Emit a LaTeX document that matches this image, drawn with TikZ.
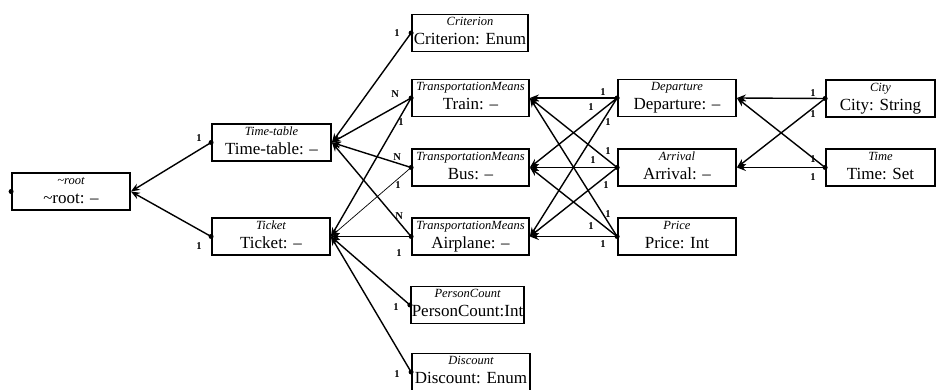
\documentclass[tikz,border=0pt]{standalone}
\usepackage{fontspec}
\setmainfont{Liberation Serif}
\usetikzlibrary{arrows.meta,calc}
\tikzset{
  ent/.style={draw, line width=1.8pt, rectangle, inner xsep=1pt, inner ysep=1.5pt,
    minimum height=37pt, align=center, font=\fontsize{17}{19}\selectfont},
  conn/.style={line width=1.4pt, -{Stealth[length=9pt,width=7pt]}},
  thinconn/.style={line width=0.7pt},
  card/.style={font=\fontsize{10.5}{11}\selectfont\bfseries, inner sep=0pt},
}
\newcommand\bx[2]{{\fontsize{12.5}{13}\selectfont\itshape\rule{0pt}{10pt}#1}\\{\rule[-5pt]{0pt}{5pt}#2}}
\newcommand\edge[5][]{\draw[conn,#1] (#2.west) -- (#3.east) node[card,at start,shift={(#4)}]{#5};}
\begin{document}
\begin{tikzpicture}[x=1pt,y=-1pt]
\useasboundingbox (0,0) rectangle (938,390);
% entities
\node[ent, minimum width=118pt] (root) at (71,191.5) {\bx{\textasciitilde root}{\textasciitilde root: --}};
\node[ent, minimum width=119pt] (timetable) at (271.5,142.5) {\bx{Time-table}{Time-table: --}};
\node[ent, minimum width=118pt] (ticket) at (271,236.5) {\bx{Ticket}{Ticket: --}};
\node[ent, minimum width=116pt] (criterion) at (470,33) {\bx{Criterion}{Criterion: Enum}};
\node[ent, minimum width=117pt] (train) at (470.5,98) {\bx{TransportationMeans}{Train: --}};
\node[ent, minimum width=117pt] (bus) at (470.5,167.5) {\bx{TransportationMeans}{Bus: --}};
\node[ent, minimum width=117pt] (airplane) at (470.5,236.5) {\bx{TransportationMeans}{Airplane: --}};
\node[ent, minimum width=111pt] (personcount) at (467.5,305) {\bx{PersonCount}{PersonCount:Int}};
\node[ent, minimum width=118pt, minimum height=34pt] (discount) at (471,372) {\bx{Discount}{Discount: Enum}};
\node[ent, minimum width=118pt] (departure) at (677,98) {\bx{Departure}{Departure: --}};
\node[ent, minimum width=118pt] (arrival) at (677,167.5) {\bx{Arrival}{Arrival: --}};
\node[ent, minimum width=118pt] (price) at (677,236.5) {\bx{Price}{Price: Int}};
\node[ent, minimum width=109pt] (city) at (880.5,98.5) {\bx{City}{City: String}};
\node[ent, minimum width=109pt] (time) at (880.5,167.5) {\bx{Time}{Time: Set}};
% connectors
\edge{timetable}{root}{-12,-4}{1}
\edge{ticket}{root}{-12,9.5}{1}
\edge{criterion}{timetable}{-14,0}{1}
\edge{train}{timetable}{-16,-4}{N}
\edge{train}{ticket}{-10,24}{1}
\edge{bus}{timetable}{-14,-10.5}{N}
\edge[thinconn]{bus}{ticket}{-13,17.5}{1}
\edge{airplane}{timetable}{-12,-20.5}{N}
\edge{airplane}{ticket}{-12,16.5}{1}
\edge{personcount}{ticket}{-14,2}{1}
\edge{discount}{ticket}{-14,2}{1}
\edge{departure}{train}{-14,-6}{1}
\edge{departure}{bus}{-26,9}{1}
\edge{departure}{airplane}{-9,24}{1}
\edge{arrival}{train}{-9,-16.5}{1}
\edge{arrival}{bus}{-24,-7.5}{1}
\edge{arrival}{airplane}{-11,17.5}{1}
\edge{price}{train}{-9,-22.5}{1}
\edge{price}{bus}{-26,-10.5}{1}
\edge{price}{airplane}{-14,7.5}{1}
\edge{city}{departure}{-12,-5}{1}
\edge{city}{arrival}{-12,16}{1}
\edge{time}{departure}{-12,-8.5}{1}
\edge{time}{arrival}{-12,9.5}{1}
% dots
\foreach \n in {root,timetable,ticket,criterion,train,bus,airplane,personcount,discount,departure,arrival,price,city,time}
  \fill (\n.west) circle (2.5pt);
\end{tikzpicture}
\end{document}
